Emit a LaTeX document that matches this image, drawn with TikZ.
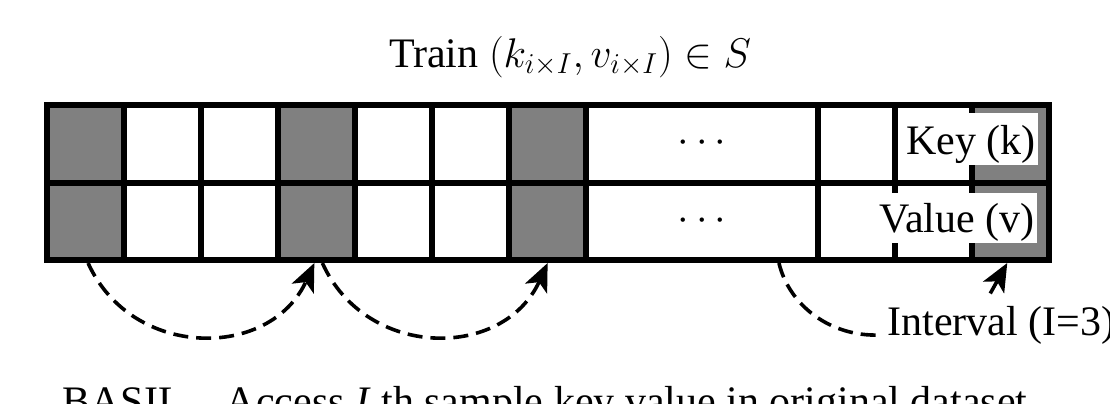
\documentclass[tikz,border=0pt]{standalone}
\usepackage{fontspec}
\setmainfont{Liberation Serif}
\usetikzlibrary{arrows.meta}
\definecolor{Ink}{HTML}{000000}
\definecolor{Shade}{HTML}{808080}

\tikzset{
  cell/.style={draw=Ink, line width=3pt, fill=white, inner sep=0pt,
    minimum width=38.55pt, minimum height=38.75pt},
  lbl/.style={font=\fontsize{21}{24}\selectfont, inner sep=0pt},
  tag/.style={lbl, fill=white, anchor=base east, inner xsep=1pt, text depth=5.5pt},
  hop/.style={draw=Ink, line width=1.8pt, dash pattern=on 7.5pt off 4pt},
  tip/.style={-{Stealth[length=14pt,width=12pt,inset=3.5pt]}},
}

\begin{document}
\begin{tikzpicture}[x=0.5pt,y=-0.5pt]
  \path[use as bounding box, clip] (0,0) rectangle (1110,403);
  \fill[white] (0,0) rectangle (1110,403);

  \node[lbl, anchor=base] (train) at (570,67) {Train $(k_{i\times I},v_{i\times I})\in S$};

  % key row on top, value row below
  \foreach \i/\c in {0/Shade,1/white,2/white,3/Shade,4/white,5/white,6/Shade,10/white,11/white,12/Shade}{
    \node[cell, fill=\c] (k\i) at ({85.05+77.1*\i},143.75) {};
    \node[cell, fill=\c] (v\i) at ({85.05+77.1*\i},221.25) {};
  }
  \node[cell, minimum width=115.65pt] (kdots) at (701.85,143.75) {\fontsize{20}{22}\selectfont$\cdots$};
  \node[cell, minimum width=115.65pt] (vdots) at (701.85,221.25) {\fontsize{20}{22}\selectfont$\cdots$};

  \node[tag, text height=20.5pt] (key) at (1038,154) {Key (k)};
  \node[tag, text height=19.5pt] (val) at (1037,232) {Value (v)};

  \node[lbl, anchor=base west, inner xsep=3.5pt] (ival) at (880,335) {Interval (I=3)};

  \draw[hop, tip] ([xshift=1.5pt]v0.south) .. controls +(44,97) and +(-44,97) .. ([xshift=-1pt]v3.south);
  \draw[hop, tip] ([xshift=3pt]v3.south) .. controls +(44,97) and +(-44,97) .. (v6.south);
  \draw[hop] ([xshift=38.55pt]vdots.south) .. controls +(10,42) and +(-50,2) .. (ival.base west);
  \draw[Ink, line width=1.8pt, tip] ([xshift=-5.5pt,yshift=6pt]ival.north) -- ([xshift=-1.5pt]v12.south);

  \node[lbl, anchor=base] (caption) at (545,415) {BASIL -- Access \textit{I} th sample key value in original dataset};
\end{tikzpicture}
\end{document}
